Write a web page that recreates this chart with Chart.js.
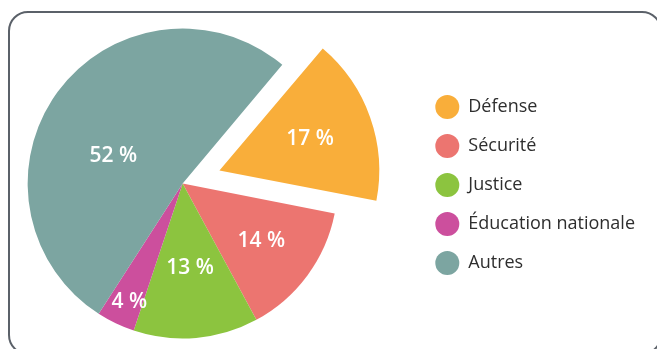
<!DOCTYPE html>
<html lang="fr">
<head>
<meta charset="utf-8">
<script src="https://cdn.jsdelivr.net/npm/chart.js@4/dist/chart.umd.min.js"></script>
<style>
  html, body { margin: 0; padding: 0; background: #fff; }
  body { width: 657px; height: 349px; position: relative; overflow: hidden; }
  .frame {
    position: absolute; left: 8px; top: 11px; width: 650px; height: 340px;
    border: 2px solid #5b6169; border-radius: 20px;
  }
  .wrap { position: absolute; left: -49px; top: 0; width: 706px; height: 349px; }
</style>
</head>
<body>
<div class="frame"></div>
<div class="wrap"><canvas id="budgetChart"></canvas></div>
<script>
const categories = ['Défense', 'Sécurité', 'Justice', 'Éducation nationale', 'Autres'];
const shares = [17, 14, 13, 4, 52];
const colors = ['#f9ae3a', '#ec7570', '#8cc43f', '#cc4f9d', '#7ca5a1'];

// where each percentage sits inside its slice: fraction of radius, position along the arc
const labelRadius = [0.62, 0.63, 0.55, 0.84, 0.48];
const labelAlong = [0.5, 0.5, 0.5, 0.4, 0.42];

const sliceLabels = {
  id: 'sliceLabels',
  afterDatasetsDraw(chart) {
    const ctx = chart.ctx;
    const arcs = chart.getDatasetMeta(0).data;
    ctx.save();
    ctx.fillStyle = '#fff';
    ctx.font = '600 21px "Open Sans", sans-serif';
    ctx.textAlign = 'center';
    ctx.textBaseline = 'middle';
    arcs.forEach((arc, i) => {
      const p = arc.getProps(['x', 'y', 'startAngle', 'endAngle', 'outerRadius'], true);
      const a = p.startAngle + (p.endAngle - p.startAngle) * labelAlong[i];
      const r = p.outerRadius * labelRadius[i];
      // arcs are pushed out by a quarter of their offset option
      const off = (arc.options.offset || 0) / 4;
      const mid = (p.startAngle + p.endAngle) / 2;
      const cx = p.x + Math.cos(mid) * off;
      const cy = p.y + Math.sin(mid) * off;
      ctx.fillText(shares[i] + ' %', cx + Math.cos(a) * r, cy + Math.sin(a) * r);
    });
    ctx.restore();
  }
};

const ctx = document.getElementById('budgetChart').getContext('2d');

const budgetChart = new Chart(ctx, {
  type: 'pie',
  data: {
    labels: categories,
    datasets: [{
      data: shares,
      backgroundColor: colors,
      borderWidth: 0,
      offset: [156, 0, 0, 0, 0],
      hoverOffset: 0,
    }]
  },
  options: {
    responsive: true,
    maintainAspectRatio: false,
    animation: false,
    rotation: 40,
    radius: 155,
    layout: {
      padding: { left: 0, top: 20, bottom: 2, right: 12 }
    },
    plugins: {
      tooltip: { enabled: false },
      legend: {
        position: 'right',
        title: { display: true, text: ' ', font: { size: 3, lineHeight: 1 }, padding: 0 },
        labels: {
          usePointStyle: true,
          pointStyle: 'circle',
          pointStyleWidth: 24,
          boxHeight: 17,
          padding: 21,
          color: '#2e2e2e',
          font: { family: '"Open Sans", sans-serif', size: 18 }
        }
      }
    }
  },
  plugins: [sliceLabels]
});
</script>
</body>
</html>
